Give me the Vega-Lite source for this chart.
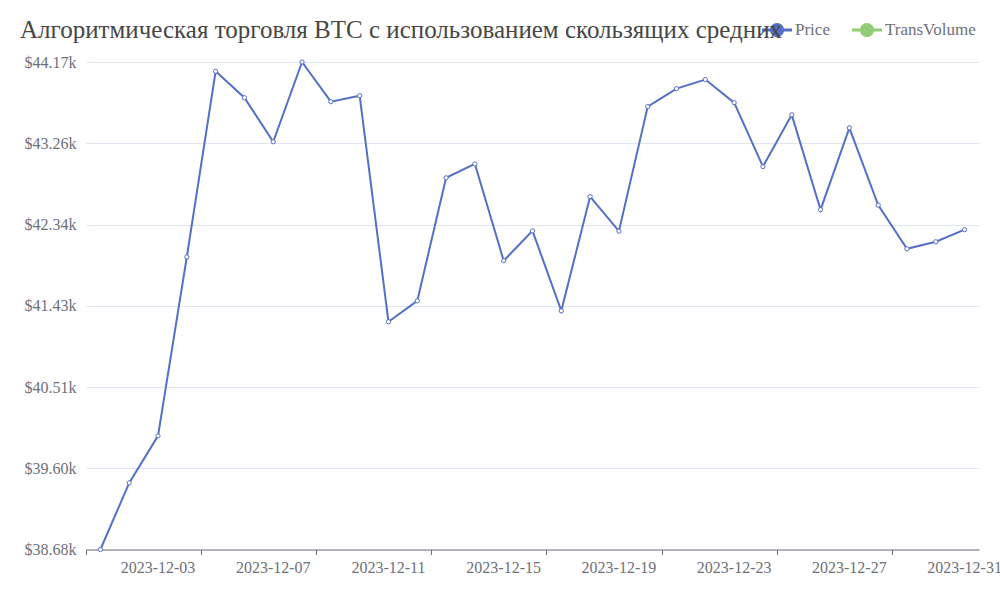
{
  "$schema": "https://vega.github.io/schema/vega-lite/v6.json",
  "width": 893,
  "height": 487.5,
  "autosize": {"type": "none"},
  "padding": {"left": 86, "top": 62, "right": 21, "bottom": 50.5},
  "background": "white",
  "title": {
    "text": "Алгоритмическая торговля BTC с использованием скользящих средних",
    "anchor": "start",
    "frame": "group",
    "dx": -66,
    "dy": 68,
    "font": "Liberation Serif",
    "fontSize": 25,
    "fontWeight": "normal",
    "color": "#464646",
    "baseline": "alphabetic",
    "offset": 20
  },
  "config": {"view": {"stroke": null}, "font": "Liberation Serif"},
  "data": {
    "values": [
      {"date": "2023-12-01", "price": 38680, "series": "Price"},
      {"date": "2023-12-02", "price": 39430, "series": "Price"},
      {"date": "2023-12-03", "price": 39960, "series": "Price"},
      {"date": "2023-12-04", "price": 41975, "series": "Price"},
      {"date": "2023-12-05", "price": 44065, "series": "Price"},
      {"date": "2023-12-06", "price": 43768, "series": "Price"},
      {"date": "2023-12-07", "price": 43272, "series": "Price"},
      {"date": "2023-12-08", "price": 44170, "series": "Price"},
      {"date": "2023-12-09", "price": 43723, "series": "Price"},
      {"date": "2023-12-10", "price": 43790, "series": "Price"},
      {"date": "2023-12-11", "price": 41245, "series": "Price"},
      {"date": "2023-12-12", "price": 41480, "series": "Price"},
      {"date": "2023-12-13", "price": 42866, "series": "Price"},
      {"date": "2023-12-14", "price": 43022, "series": "Price"},
      {"date": "2023-12-15", "price": 41932, "series": "Price"},
      {"date": "2023-12-16", "price": 42268, "series": "Price"},
      {"date": "2023-12-17", "price": 41368, "series": "Price"},
      {"date": "2023-12-18", "price": 42654, "series": "Price"},
      {"date": "2023-12-19", "price": 42265, "series": "Price"},
      {"date": "2023-12-20", "price": 43668, "series": "Price"},
      {"date": "2023-12-21", "price": 43870, "series": "Price"},
      {"date": "2023-12-22", "price": 43972, "series": "Price"},
      {"date": "2023-12-23", "price": 43712, "series": "Price"},
      {"date": "2023-12-24", "price": 42992, "series": "Price"},
      {"date": "2023-12-25", "price": 43575, "series": "Price"},
      {"date": "2023-12-26", "price": 42507, "series": "Price"},
      {"date": "2023-12-27", "price": 43428, "series": "Price"},
      {"date": "2023-12-28", "price": 42558, "series": "Price"},
      {"date": "2023-12-29", "price": 42067, "series": "Price"},
      {"date": "2023-12-30", "price": 42146, "series": "Price"},
      {"date": "2023-12-31", "price": 42282, "series": "Price"}
    ]
  },
  "encoding": {
    "y": {
      "field": "price",
      "type": "quantitative",
      "scale": {"domain": [38680, 44170], "nice": false, "zero": false},
      "axis": {
        "title": null,
        "domain": false,
        "ticks": false,
        "grid": true,
        "gridColor": "#E0E6F1",
        "gridWidth": 1,
        "labelPadding": 10,
        "labelFont": "Liberation Serif",
        "labelFontSize": 16,
        "labelColor": "#6E7079",
        "values": [38680, 39595, 40510, 41425, 42340, 43255, 44170],
        "labelExpr": "'$' + format(datum.value / 1000 + 0.0000001, '.2f') + 'k'"
      }
    }
  },
  "layer": [
    {
      "mark": {"type": "line", "strokeWidth": 2},
      "encoding": {
        "x": {
          "field": "date",
          "type": "ordinal",
          "scale": {"type": "band", "paddingInner": 0, "paddingOuter": 0},
          "axis": {
            "orient": "bottom",
            "title": null,
            "values": ["2023-12-01", "2023-12-05", "2023-12-09", "2023-12-13", "2023-12-17", "2023-12-21", "2023-12-25", "2023-12-29"],
            "bandPosition": 0,
            "labels": false,
            "ticks": true,
            "tickSize": 5,
            "tickColor": "#6E7079",
            "domainColor": "#6E7079",
            "grid": false
          }
        },
        "color": {
          "field": "series",
          "type": "nominal",
          "scale": {"domain": ["Price", "TransVolume"], "range": ["#5470c6", "#91cc75"]},
          "legend": {
            "title": null,
            "orient": "none",
            "legendX": 676,
            "legendY": -47,
            "direction": "horizontal",
            "padding": 0,
            "symbolType": "M-1,-0.1L1,-0.1L1,0.1L-1,0.1Z M0.47,0A0.47,0.47,0,1,1,-0.47,0A0.47,0.47,0,1,1,0.47,0Z",
            "symbolSize": 900,
            "symbolStrokeWidth": 0,
            "labelFont": "Liberation Serif",
            "labelFontSize": 17,
            "labelColor": "#6E7079",
            "labelOffset": 3,
            "columnPadding": 22,
            "encode": {
              "symbols": {
                "update": {
                  "fill": {"scale": "color", "field": "value"},
                  "opacity": {"value": 1}
                }
              }
            }
          }
        }
      }
    },
    {
      "mark": {"type": "point", "filled": true, "fill": "white", "stroke": "#5470c6", "strokeWidth": 1, "size": 18, "opacity": 1},
      "encoding": {
        "x": {
          "field": "date",
          "type": "ordinal",
          "axis": {
            "orient": "bottom",
            "title": null,
            "values": ["2023-12-03", "2023-12-07", "2023-12-11", "2023-12-15", "2023-12-19", "2023-12-23", "2023-12-27", "2023-12-31"],
            "labels": true,
            "ticks": false,
            "domain": false,
            "grid": false,
            "labelAngle": 0,
            "labelPadding": 10,
            "labelFont": "Liberation Serif",
            "labelFontSize": 16,
            "labelColor": "#6E7079"
          }
        }
      }
    }
  ],
  "resolve": {"axis": {"x": "independent"}}
}
